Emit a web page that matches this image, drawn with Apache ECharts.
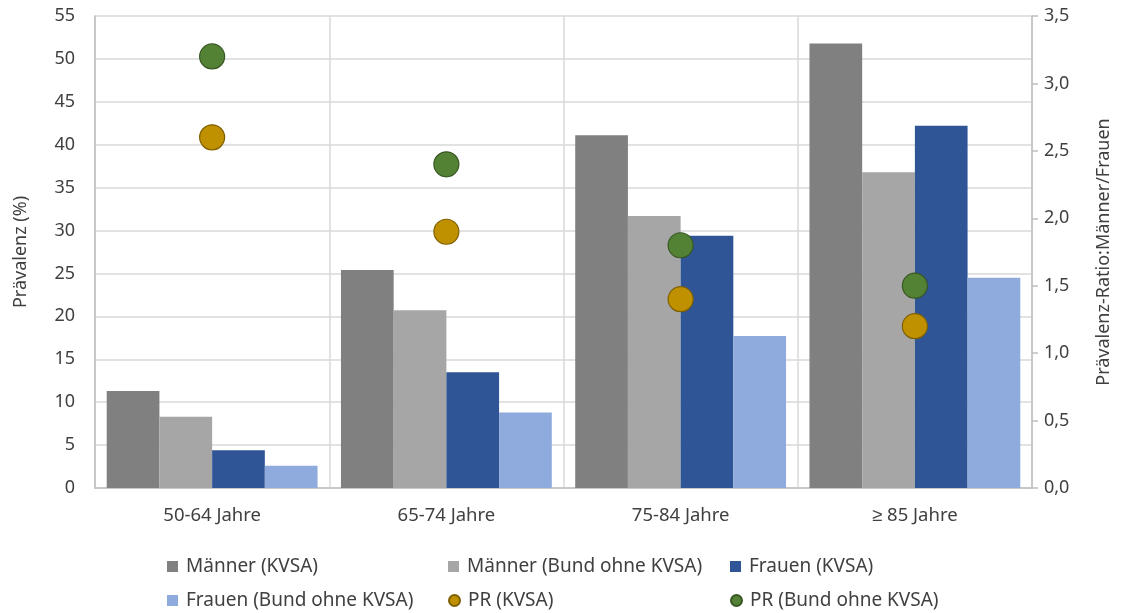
<!DOCTYPE html>
<html>
<head>
<meta charset="utf-8">
<script src="https://cdn.jsdelivr.net/npm/echarts@6/dist/echarts.min.js"></script>
<style>
  html, body { margin: 0; padding: 0; background: #ffffff; }
  #chart { width: 1121px; height: 613px; }
</style>
</head>
<body>
<div id="chart"></div>
<script>
// Altersgruppen
const categories = ['50-64 Jahre', '65-74 Jahre', '75-84 Jahre', '\u2265 85 Jahre'];

// Prävalenz (%)
const maennerKVSA = [11.3, 25.4, 41.1, 51.8];
const maennerBund = [8.3, 20.7, 31.7, 36.8];
const frauenKVSA = [4.4, 13.5, 29.4, 42.2];
const frauenBund = [2.6, 8.8, 17.7, 24.5];

// Prävalenz-Ratio Männer/Frauen
const prKVSA = [2.6, 1.9, 1.4, 1.2];
const prBund = [3.2, 2.4, 1.8, 1.5];

const seriesNames = [
  'Männer (KVSA)', 'Männer (Bund ohne KVSA)', 'Frauen (KVSA)',
  'Frauen (Bund ohne KVSA)', 'PR (KVSA)', 'PR (Bund ohne KVSA)'
];

const FONT = '"Noto Sans", sans-serif';
const TEXT = '#404040';

const chart = echarts.init(document.getElementById('chart'), null, { renderer: 'canvas' });

// one legend per entry, laid out in a 3x2 grid
const legendPos = [
  [167, 557], [448, 557], [730, 557],
  [167, 591], [448, 591], [730, 591]
];
const legends = seriesNames.map((name, i) => ({
  data: [{ name: name, icon: i >= 4 ? 'circle' : 'rect' }],
  left: legendPos[i][0],
  top: legendPos[i][1],
  itemWidth: 11,
  itemHeight: 11,
  itemGap: 0,
  padding: 0,
  selectedMode: false,
  textStyle: { fontFamily: FONT, fontSize: 19, color: TEXT, padding: [0, 0, 0, 3] }
}));

const barColors = ['#808080', '#a6a6a6', '#2f5597', '#8faadc'];
const barData = [maennerKVSA, maennerBund, frauenKVSA, frauenBund];

const barSeries = barData.map((d, i) => ({
  name: seriesNames[i],
  type: 'bar',
  data: d,
  yAxisIndex: 0,
  barGap: '0%',
  barCategoryGap: '10%',
  itemStyle: { color: barColors[i] },
  z: 2
}));

const scatterSeries = [
  { name: seriesNames[4], data: prKVSA, color: '#bf9000', border: '#7f6000' },
  { name: seriesNames[5], data: prBund, color: '#548235', border: '#385723' }
].map(s => ({
  name: s.name,
  type: 'scatter',
  data: s.data,
  yAxisIndex: 1,
  symbol: 'circle',
  symbolSize: 25,
  itemStyle: { color: s.color, borderColor: s.border, borderWidth: 1.2, opacity: 1 },
  z: 5
}));

chart.setOption({
  animation: false,
  backgroundColor: '#ffffff',
  legend: legends,
  grid: { left: 95, right: 86, top: 16, bottom: 125, containLabel: false },
  xAxis: {
    type: 'category',
    data: categories,
    boundaryGap: true,
    axisLine: { show: true, lineStyle: { color: '#bfbfbf', width: 1.5 } },
    axisTick: { show: false },
    splitLine: { show: true, lineStyle: { color: '#d9d9d9', width: 1.5 } },
    axisLabel: { fontFamily: FONT, fontSize: 18.5, color: TEXT, margin: 18 }
  },
  yAxis: [
    {
      type: 'value',
      min: 0, max: 55, interval: 5,
      name: 'Prävalenz (%)',
      nameLocation: 'middle',
      nameGap: 65,
      nameRotate: 90,
      nameTextStyle: { fontFamily: FONT, fontSize: 18, color: TEXT },
      axisLine: { show: true, lineStyle: { color: '#bfbfbf', width: 1.5 } },
      axisTick: { show: false },
      splitLine: { show: true, lineStyle: { color: '#d9d9d9', width: 1.5 } },
      axisLabel: { fontFamily: FONT, fontSize: 18, color: TEXT, margin: 20 }
    },
    {
      type: 'value',
      position: 'right',
      min: 0, max: 3.5, interval: 0.5,
      name: 'Prävalenz-Ratio:Männer/Frauen',
      nameLocation: 'middle',
      nameGap: 63,
      nameRotate: 90,
      nameTextStyle: { fontFamily: FONT, fontSize: 18, color: TEXT },
      axisLine: { show: true, lineStyle: { color: '#bfbfbf', width: 1.5 } },
      axisTick: { show: true, inside: false, length: 6, lineStyle: { color: '#bfbfbf', width: 1.5 } },
      splitLine: { show: false },
      axisLabel: {
        fontFamily: FONT, fontSize: 18, color: TEXT, margin: 12,
        formatter: v => v.toFixed(1).replace('.', ',')
      }
    }
  ],
  series: barSeries.concat(scatterSeries)
});
</script>
</body>
</html>
